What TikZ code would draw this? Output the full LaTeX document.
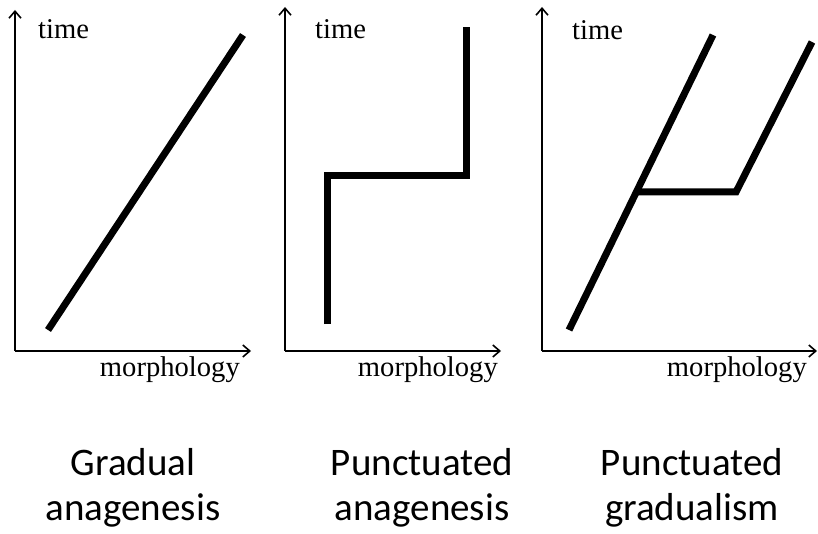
\documentclass[tikz,border=0pt]{standalone}
\usepackage{fontspec}
\setmainfont{Liberation Serif}
\newfontfamily\calib{Carlito}
\usetikzlibrary{arrows.meta}
\begin{document}
\begin{tikzpicture}[x=1pt,y=-1pt,
  axis/.style={line width=1.6pt,-{Straight Barb[length=7pt,width=12pt,line width=1.6pt]}},
  curve/.style={line width=7pt,line join=miter},
  axlabel/.style={inner sep=0pt,font=\fontsize{28.6}{32}\selectfont},
  caption/.style={inner sep=0pt,anchor=base,font=\calib\fontsize{39}{45}\selectfont}]
\useasboundingbox (0,0) rectangle (818,534);
% panel 1
\coordinate (o1) at (15,351);
\coordinate (y1) at (15,10);
\coordinate (x1) at (251,351);
\draw[axis] (o1) -- (y1);
\draw[axis] (o1) -- (x1);
\coordinate (a1) at (48,330);
\coordinate (b1) at (243,35);
\draw[curve] (a1) -- (b1);
\node[axlabel,anchor=base west] (t1) at (38,39) {time};
\node[axlabel,anchor=base east] (m1) at (240,376) {morphology};
% panel 2
\coordinate (o2) at (285,351);
\coordinate (y2) at (285,7);
\coordinate (x2) at (501,351);
\draw[axis] (o2) -- (y2);
\draw[axis] (o2) -- (x2);
\coordinate (a2) at (327,324);
\coordinate (b2) at (327,176);
\coordinate (c2) at (466,176);
\coordinate (d2) at (466,27);
\draw[curve] (a2) -- (b2) -- (c2) -- (d2);
\node[axlabel,anchor=base west] (t2) at (315,39) {time};
\node[axlabel,anchor=base east] (m2) at (498,376) {morphology};
% panel 3
\coordinate (o3) at (542,351);
\coordinate (y3) at (542,7);
\coordinate (x3) at (817,351);
\draw[axis] (o3) -- (y3);
\draw[axis] (o3) -- (x3);
\coordinate (a3) at (569,330);
\coordinate (b3) at (713,35);
\coordinate (j3) at (637,192);
\coordinate (c3) at (736,192);
\coordinate (d3) at (812,42);
\draw[curve] (a3) -- (b3);
\draw[curve] (j3) -- (c3) -- (d3);
\node[axlabel,anchor=base west] (t3) at (572,40) {time};
\node[axlabel,anchor=base east] (m3) at (807,376) {morphology};
% captions
\node[caption] (c1a) at (133,475) {Gradual};
\node[caption] (c1b) at (133,520) {anagenesis};
\node[caption] (c2a) at (422,475) {Punctuated};
\node[caption] (c2b) at (422,520) {anagenesis};
\node[caption] (c3a) at (692,475) {Punctuated};
\node[caption] (c3b) at (692,520) {gradualism};
\end{tikzpicture}
\end{document}
